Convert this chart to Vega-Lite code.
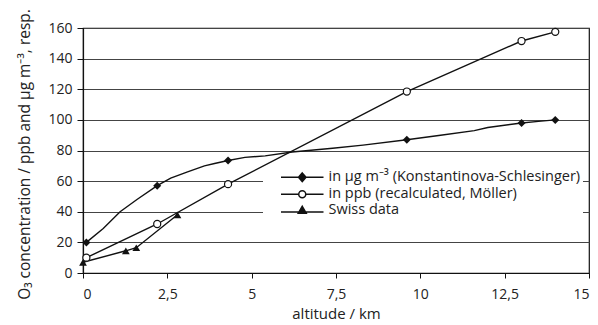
{
  "$schema": "https://vega.github.io/schema/vega-lite/v6.json",
  "width": 506,
  "height": 245,
  "autosize": {"type": "none"},
  "padding": {"left": 83, "top": 28, "right": 9, "bottom": 52},
  "background": "white",
  "config": {
    "font": "Open Sans",
    "view": {"stroke": "#111", "strokeWidth": 1.2},
    "legend": {"fillColor": "white"},
    "axis": {"labelFont": "Open Sans", "titleFont": "Open Sans", "labelColor": "#222", "titleColor": "#222", "labelFontSize": 14, "titleFontSize": 15, "titleFontWeight": "normal", "domainColor": "#111", "tickColor": "#111", "domainWidth": 1.2, "labelOverlap": false, "labelBound": false}
  },
  "datasets": {
    "obs": [
      {"series": "in µg m⁻³ (Konstantinova-Schlesinger)", "kind": "measured", "alt": 0.1, "conc": 20},
      {"series": "in µg m⁻³ (Konstantinova-Schlesinger)", "kind": "trace", "alt": 0.6, "conc": 29},
      {"series": "in µg m⁻³ (Konstantinova-Schlesinger)", "kind": "trace", "alt": 1.1, "conc": 40},
      {"series": "in µg m⁻³ (Konstantinova-Schlesinger)", "kind": "trace", "alt": 1.6, "conc": 48},
      {"series": "in µg m⁻³ (Konstantinova-Schlesinger)", "kind": "measured", "alt": 2.2, "conc": 57},
      {"series": "in µg m⁻³ (Konstantinova-Schlesinger)", "kind": "trace", "alt": 2.6, "conc": 62},
      {"series": "in µg m⁻³ (Konstantinova-Schlesinger)", "kind": "trace", "alt": 3.1, "conc": 66},
      {"series": "in µg m⁻³ (Konstantinova-Schlesinger)", "kind": "trace", "alt": 3.6, "conc": 70},
      {"series": "in µg m⁻³ (Konstantinova-Schlesinger)", "kind": "trace", "alt": 3.9, "conc": 71.5},
      {"series": "in µg m⁻³ (Konstantinova-Schlesinger)", "kind": "measured", "alt": 4.3, "conc": 73.5},
      {"series": "in µg m⁻³ (Konstantinova-Schlesinger)", "kind": "trace", "alt": 4.8, "conc": 75.5},
      {"series": "in µg m⁻³ (Konstantinova-Schlesinger)", "kind": "trace", "alt": 5.4, "conc": 76.5},
      {"series": "in µg m⁻³ (Konstantinova-Schlesinger)", "kind": "trace", "alt": 6.2, "conc": 79},
      {"series": "in µg m⁻³ (Konstantinova-Schlesinger)", "kind": "trace", "alt": 7.4, "conc": 81.5},
      {"series": "in µg m⁻³ (Konstantinova-Schlesinger)", "kind": "trace", "alt": 8.3, "conc": 83.5},
      {"series": "in µg m⁻³ (Konstantinova-Schlesinger)", "kind": "measured", "alt": 9.6, "conc": 87},
      {"series": "in µg m⁻³ (Konstantinova-Schlesinger)", "kind": "trace", "alt": 10.6, "conc": 90},
      {"series": "in µg m⁻³ (Konstantinova-Schlesinger)", "kind": "trace", "alt": 11.6, "conc": 93},
      {"series": "in µg m⁻³ (Konstantinova-Schlesinger)", "kind": "trace", "alt": 12.0, "conc": 95},
      {"series": "in µg m⁻³ (Konstantinova-Schlesinger)", "kind": "measured", "alt": 13.0, "conc": 98},
      {"series": "in µg m⁻³ (Konstantinova-Schlesinger)", "kind": "trace", "alt": 13.5, "conc": 99},
      {"series": "in µg m⁻³ (Konstantinova-Schlesinger)", "kind": "measured", "alt": 14.0, "conc": 100},
      {"series": "in ppb (recalculated, Möller)", "kind": "measured", "alt": 0.1, "conc": 10},
      {"series": "in ppb (recalculated, Möller)", "kind": "measured", "alt": 2.2, "conc": 32},
      {"series": "in ppb (recalculated, Möller)", "kind": "measured", "alt": 4.3, "conc": 58},
      {"series": "in ppb (recalculated, Möller)", "kind": "measured", "alt": 9.6, "conc": 118.5},
      {"series": "in ppb (recalculated, Möller)", "kind": "measured", "alt": 13.0, "conc": 151.5},
      {"series": "in ppb (recalculated, Möller)", "kind": "measured", "alt": 14.0, "conc": 157.5},
      {"series": "Swiss data", "kind": "measured", "alt": 0.0, "conc": 7},
      {"series": "Swiss data", "kind": "measured", "alt": 1.27, "conc": 14.5},
      {"series": "Swiss data", "kind": "measured", "alt": 1.58, "conc": 16.5},
      {"series": "Swiss data", "kind": "measured", "alt": 2.8, "conc": 38}
    ]
  },
  "data": {"name": "obs"},
  "encoding": {
    "x": {"field": "alt", "type": "quantitative", "scale": {"domain": [0, 15], "nice": false},
      "axis": {"values": [0, 2.5, 5, 7.5, 10, 12.5, 15], "labelExpr": "replace(format(datum.value, '~g'), '.', ',')", "title": "altitude / km", "grid": false, "tickSize": 5, "labelPadding": 9, "titlePadding": 5}},
    "y": {"field": "conc", "type": "quantitative", "scale": {"domain": [0, 160], "nice": false},
      "axis": {"values": [0, 20, 40, 60, 80, 100, 120, 140, 160], "title": "O₃ concentration / ppb and µg m⁻³, resp.", "titleFontSize": 15.5, "titleX": -51, "titleY": 126, "grid": true, "gridColor": "#444", "gridWidth": 1, "gridOpacity": 1, "tickSize": 6, "labelPadding": 5}}
  },
  "layer": [
    {
      "mark": {"type": "line", "color": "#111", "strokeWidth": 1.4, "clip": false},
      "encoding": {"detail": {"field": "series"}}
    },
    {
      "transform": [{"filter": "datum.kind === 'measured' && datum.series === 'in µg m⁻³ (Konstantinova-Schlesinger)'"}],
      "mark": {"type": "point", "shape": "diamond", "size": 64, "filled": true, "color": "#111", "opacity": 1, "clip": false},
      "encoding": {}
    },
    {
      "transform": [{"filter": "datum.series === 'in ppb (recalculated, Möller)'"}],
      "mark": {"type": "point", "shape": "circle", "size": 50, "fill": "white", "stroke": "#111", "strokeWidth": 1.2, "opacity": 1, "clip": false},
      "encoding": {}
    },
    {
      "transform": [{"filter": "datum.series === 'Swiss data'"}],
      "mark": {"type": "point", "shape": "triangle-up", "size": 60, "filled": true, "color": "#111", "opacity": 1, "clip": false},
      "encoding": {}
    },
    {
      "transform": [{"filter": "false"}],
      "mark": {"type": "point", "size": 64, "stroke": "#111", "strokeWidth": 1.3, "opacity": 1},
      "encoding": {
        "shape": {"field": "series", "type": "nominal",
          "scale": {"domain": ["in µg m⁻³ (Konstantinova-Schlesinger)", "in ppb (recalculated, Möller)", "Swiss data"],
            "range": ["M1.75,0H10.25M6,-0.85L6.75,0L6,0.85L5.25,0Z", "M1.75,0H5.3M6.7,0H10.25M6.7,0A0.7,0.7,0,1,1,5.3,0A0.7,0.7,0,1,1,6.7,0Z", "M1.75,0.35H10.25M6,-0.8L6.8,0.6L5.2,0.6Z"]},
          "legend": {"title": null, "orient": "none", "legendX": 180, "legendY": 140, "padding": 2, "fillColor": "white", "labelFontSize": 14.5, "labelFont": "Open Sans", "labelColor": "#222", "labelOffset": 49, "labelLimit": 400, "rowPadding": 1,
            "encode": {"symbols": {"update": {"stroke": {"value": "#111"}, "strokeWidth": {"value": 1.3}}}}}},
        "fill": {"field": "series", "type": "nominal",
          "scale": {"domain": ["in µg m⁻³ (Konstantinova-Schlesinger)", "in ppb (recalculated, Möller)", "Swiss data"], "range": ["#111", "white", "#111"]},
          "legend": {"title": null, "orient": "none", "legendX": 180, "legendY": 140, "padding": 2, "fillColor": "white", "labelFontSize": 14.5, "labelFont": "Open Sans", "labelColor": "#222", "labelOffset": 49, "labelLimit": 400, "rowPadding": 1,
            "encode": {"symbols": {"update": {"stroke": {"value": "#111"}, "strokeWidth": {"value": 1.3}}}}}}
      }
    }
  ]
}
